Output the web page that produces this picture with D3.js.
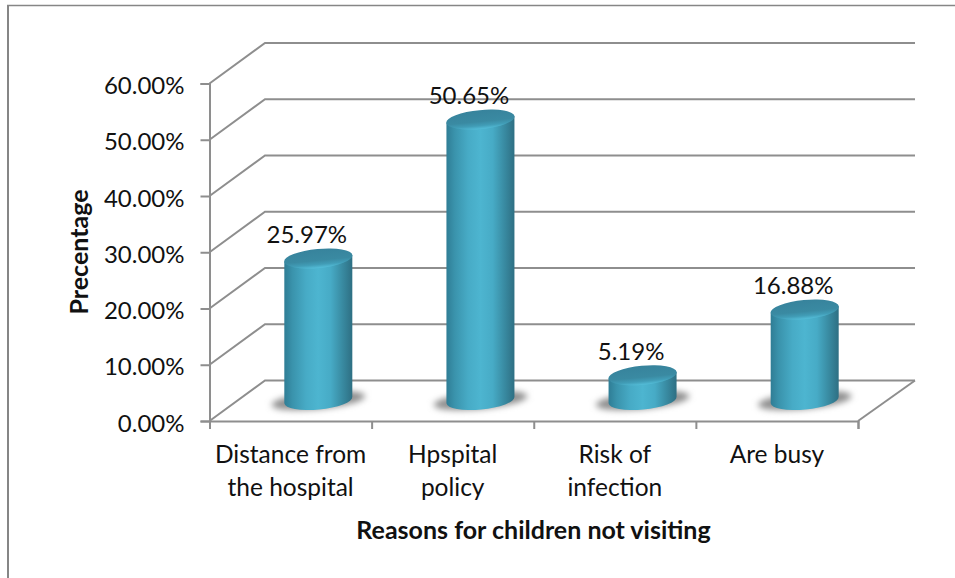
<!DOCTYPE html>
<html>
<head>
<meta charset="utf-8">
<script src="https://cdn.jsdelivr.net/npm/d3@7/dist/d3.min.js"></script>
<style>
  html, body { margin: 0; padding: 0; background: #fff; }
  svg { display: block; }
  text { font-family: Lato, "Open Sans", sans-serif; fill: #111; }
</style>
</head>
<body>
<svg id="chart" width="955" height="578"></svg>
<script>
// Chart content
const categories = [["Distance from", "the hospital"], ["Hpspital", "policy"], ["Risk of", "infection"], ["Are busy"]];
const values = [25.97, 50.65, 5.19, 16.88];
const valueLabels = ["25.97%", "50.65%", "5.19%", "16.88%"];
const yTicks = [0, 10, 20, 30, 40, 50, 60];
const yTickLabels = ["0.00%", "10.00%", "20.00%", "30.00%", "40.00%", "50.00%", "60.00%"];
const xTitle = "Reasons for children not visiting";
const yTitle = "Precentage";

const svg = d3.select("#chart");
const gridColor = "#8e8e8e";
const fontSize = 24;

// Front plane scales; the back wall is the same plane pushed up and to the right.
const y = d3.scaleLinear().domain([0, 60]).range([421, 83.5]);
const x = d3.scaleBand().domain(d3.range(categories.length)).range([209.5, 858]);
const depth = { dx: 55.5, dy: -40.5 };

const defs = svg.append("defs");
const body = defs.append("linearGradient").attr("id", "cyl").attr("x1", 0).attr("x2", 1).attr("y1", 0).attr("y2", 0);
[[0, "#2f7d95"], [0.12, "#3a93ac"], [0.32, "#47abc6"], [0.5, "#4db5d0"], [0.68, "#47abc6"], [0.85, "#398ba2"], [1, "#2e6f83"]]
  .forEach(([o, c]) => body.append("stop").attr("offset", o).attr("stop-color", c));
const cap = defs.append("linearGradient").attr("id", "cap").attr("x1", 0).attr("x2", 0).attr("y1", 0).attr("y2", 1);
[[0, "#37839c"], [0.6, "#3a8aa2"], [0.82, "#419db7"], [1, "#54bdd8"]]
  .forEach(([o, c]) => cap.append("stop").attr("offset", o).attr("stop-color", c));
defs.append("filter").attr("id", "soft").attr("x", "-30%").attr("y", "-60%").attr("width", "160%").attr("height", "220%")
  .append("feGaussianBlur").attr("stdDeviation", 3.2);

// Outer frame, open on the right and bottom
const frame = svg.append("g").attr("stroke", "#868686").attr("fill", "none");
frame.append("line").attr("x1", 7).attr("x2", 955).attr("y1", 5.5).attr("y2", 5.5).attr("stroke-width", 1.5);
frame.append("line").attr("x1", 8).attr("x2", 8).attr("y1", 5).attr("y2", 578).attr("stroke-width", 2);

// Walls: gridlines run from the front axis back and across the rear wall
const walls = svg.append("g").attr("fill", "none").attr("stroke", gridColor).attr("stroke-width", 2);
yTicks.forEach(t => {
  const yf = y(t);
  walls.append("path").attr("d", d3.line()([
    [x.range()[0], yf],
    [x.range()[0] + depth.dx, yf + depth.dy],
    [x.range()[1] + depth.dx + 1.5, yf + depth.dy]
  ]));
});
// Floor edge on the right
walls.append("line")
  .attr("x1", x.range()[1]).attr("y1", y(0))
  .attr("x2", x.range()[1] + depth.dx + 1.5).attr("y2", y(0) + depth.dy);

// Front axes and ticks
const yAxis = d3.axisLeft(y).tickValues(yTicks).tickFormat((d, i) => yTickLabels[i]).tickSize(9).tickPadding(16);
const yG = svg.append("g").attr("transform", `translate(${x.range()[0]},0)`).call(yAxis);
yG.select(".domain").attr("stroke", gridColor).attr("stroke-width", 2);
yG.selectAll(".tick line").attr("stroke", gridColor).attr("stroke-width", 2);
yG.selectAll(".tick text").attr("font-size", fontSize).attr("font-family", "Lato").attr("fill", "#111").attr("dy", "0.42em");

const xEdges = d3.range(categories.length + 1).map(i => x.range()[0] + i * x.bandwidth());
const xAxis = d3.axisBottom(d3.scaleLinear().domain(x.range()).range(x.range())).tickValues(xEdges).tickFormat("").tickSize(8);
const xG = svg.append("g").attr("transform", `translate(0,${y(0)})`).call(xAxis);
xG.select(".domain").attr("stroke", gridColor).attr("stroke-width", 2);
xG.selectAll(".tick line").attr("stroke", gridColor).attr("stroke-width", 2);

// Cylinders stand midway between the front edge and the back wall
const baseY = 400;         // centre of each cylinder's foot on the floor
const capOffset = -16.5;   // cap centre relative to the value's front-plane height
const rx = 34, ry = 9.5, tilt = -5.5;
const capY = d => y(d) + capOffset;
const bars = svg.append("g").selectAll("g").data(values).join("g")
  .attr("transform", (d, i) => `translate(${x(i) + x.bandwidth() / 2 + depth.dx / 2},0)`);

bars.append("ellipse").attr("cx", 0).attr("cy", baseY + 0.5).attr("rx", 47).attr("ry", 8.5)
  .attr("fill", "#8d8d8d").attr("filter", "url(#soft)")
  .attr("transform", `rotate(${tilt} 0 ${baseY})`);

bars.append("path")
  .attr("fill", "url(#cyl)")
  .attr("d", d => {
    const top = capY(d);
    const dyEdge = rx * Math.sin(-tilt * Math.PI / 180);
    return `M${-rx},${top + dyEdge} L${-rx},${baseY + dyEdge}` +
      `A${rx},${ry} ${tilt} 0 0 ${rx},${baseY - dyEdge} L${rx},${top - dyEdge} Z`;
  });

bars.append("ellipse")
  .attr("cx", 0).attr("cy", capY)
  .attr("rx", rx + 0.3).attr("ry", ry)
  .attr("fill", "url(#cap)")
  .attr("transform", d => `rotate(${tilt} 0 ${capY(d)})`);

bars.append("text")
  .attr("x", -11.5).attr("text-anchor", "middle")
  .attr("y", d => capY(d) - 15.5)
  .attr("font-size", fontSize)
  .text((d, i) => valueLabels[i]);

// Category labels
const catLabels = svg.append("g").selectAll("text").data(categories).join("text")
  .attr("text-anchor", "middle").attr("font-size", 24.5)
  .attr("transform", (d, i) => `translate(${x(i) + x.bandwidth() / 2},0)`);
catLabels.selectAll("tspan").data(d => d).join("tspan")
  .attr("x", 0).attr("y", (d, i) => 462.5 + i * 33).text(d => d);

// Axis titles
svg.append("text").attr("x", 533.5).attr("y", 538.5).attr("text-anchor", "middle")
  .attr("font-size", 25).attr("font-weight", 700).text(xTitle);
svg.append("text").attr("transform", "translate(88,252) rotate(-90)").attr("text-anchor", "middle")
  .attr("font-size", 25).attr("font-weight", 700).text(yTitle);
</script>
</body>
</html>
